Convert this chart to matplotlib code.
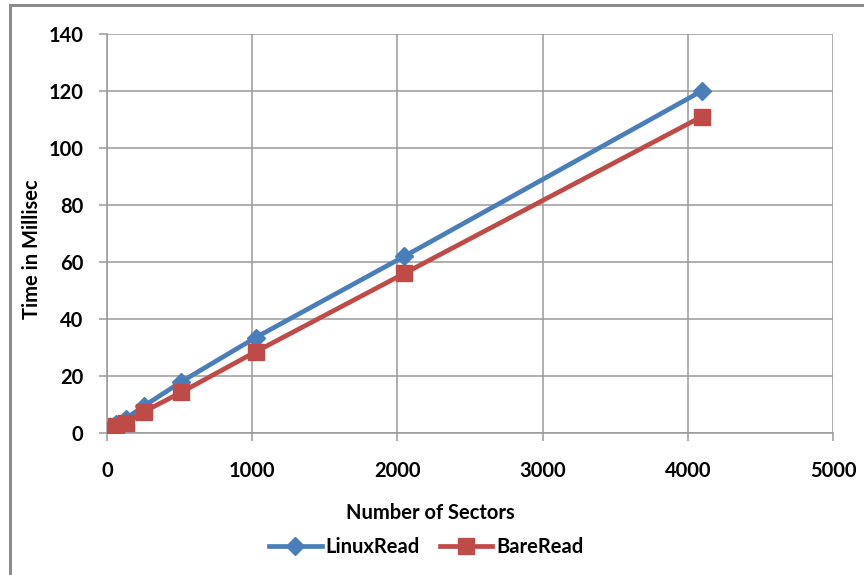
import numpy as np
import matplotlib
matplotlib.use("Agg")
import matplotlib.pyplot as plt
from matplotlib.patches import Rectangle

# sectors read per request and measured read time (ms)
sectors = [32, 64, 128, 256, 512, 1024, 2048, 4096]
linux_read = [2, 3, 5, 9.5, 18, 33.5, 62, 120]
bare_read = [1.2, 2.3, 3.6, 7.5, 14.3, 28.5, 56, 111]

x_ticks = [0, 1000, 2000, 3000, 4000, 5000]
y_ticks = [0, 20, 40, 60, 80, 100, 120, 140]

blue = "#4A7EBB"
red = "#BE4B48"
grid_gray = "#9a9a9a"

plt.rcParams['font.family'] = ['Lato', 'DejaVu Sans']

fig = plt.figure(figsize=(8.64, 5.75), dpi=100)
ax = fig.add_axes([107/864, 1 - 433/575, (833 - 107)/864, (433 - 34)/575])

#outer chart border, runs off the right and bottom of the image
fig.patches.append(Rectangle((10/864, -0.05), 1.1, 1 - 5/575 + 0.05,
                             transform=fig.transFigure, fill=False,
                             edgecolor="#8c8c8c", linewidth=2.2, clip_on=False))

ax.plot(sectors, linux_read, color=blue, linewidth=3.4, marker="D",
        markersize=9, label="LinuxRead", zorder=3)
ax.plot(sectors, bare_read, color=red, linewidth=3.4, marker="s",
        markersize=12, label="BareRead", zorder=4)

ax.set_xlim(0, 5000)
ax.set_ylim(0, 140)
ax.set_xticks(x_ticks)
ax.set_yticks(y_ticks)
ax.grid(True, color=grid_gray, linewidth=1.1)
ax.set_axisbelow(True)
for side in ["top", "right"]:
    ax.spines[side].set_visible(False)
for side in ["left", "bottom"]:
    ax.spines[side].set_color(grid_gray)
    ax.spines[side].set_linewidth(1.1)
ax.tick_params(direction="out", length=6, width=1.1, color=grid_gray,
               labelsize=14.5)
ax.tick_params(axis="x", pad=14)
ax.tick_params(axis="y", pad=11)
for lbl in ax.get_xticklabels() + ax.get_yticklabels():
    lbl.set_fontweight("bold")

ax.set_xlabel("Number of Sectors", fontsize=14.5, fontweight="bold")
ax.set_ylabel("Time in Millisec", fontsize=14.5, fontweight="bold")
ax.xaxis.set_label_coords(0.445, -0.175)
ax.yaxis.set_label_coords(-0.089, 0.46)

ax.legend(loc="center", bbox_to_anchor=(0.44, -0.285), ncol=2, frameon=False,
          handlelength=2.6, columnspacing=1.0, handletextpad=0.2,
          prop={"weight": "bold", "size": 14.5})

fig.savefig("out.png", dpi=100)
